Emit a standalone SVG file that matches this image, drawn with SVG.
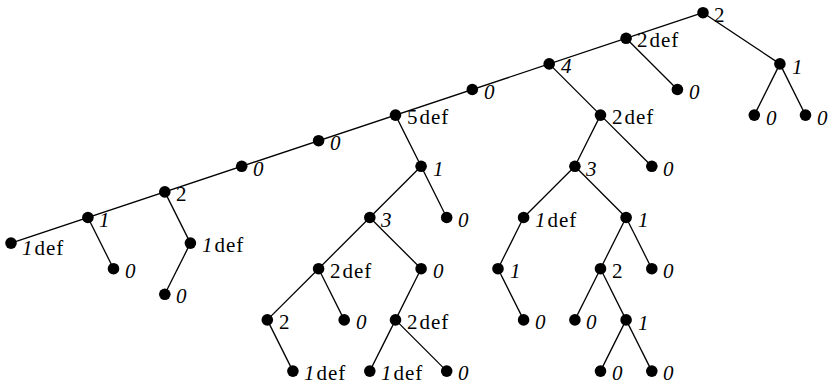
<svg xmlns="http://www.w3.org/2000/svg" width="836" height="385" viewBox="0 0 836 385">
<style>
.e{stroke:#000;stroke-width:1.3;fill:none}
.d{fill:#000}
.it{font-style:italic}
.rm{letter-spacing:1px}
</style>
<rect width="836" height="385" fill="#fff"/>
<g id="connectors" class="e">
<line x1="703.0" y1="12.7" x2="11.0" y2="243.1"/>
<line x1="703.0" y1="12.7" x2="779.9" y2="63.9"/>
<line x1="779.9" y1="63.9" x2="754.3" y2="115.1"/>
<line x1="779.9" y1="63.9" x2="805.5" y2="115.1"/>
<line x1="626.1" y1="38.3" x2="677.4" y2="89.5"/>
<line x1="549.2" y1="63.9" x2="600.5" y2="115.1"/>
<line x1="600.5" y1="115.1" x2="574.9" y2="166.3"/>
<line x1="600.5" y1="115.1" x2="651.8" y2="166.3"/>
<line x1="395.5" y1="115.1" x2="421.1" y2="166.3"/>
<line x1="421.1" y1="166.3" x2="369.8" y2="217.5"/>
<line x1="421.1" y1="166.3" x2="446.7" y2="217.5"/>
<line x1="369.8" y1="217.5" x2="318.6" y2="268.7"/>
<line x1="369.8" y1="217.5" x2="421.1" y2="268.7"/>
<line x1="318.6" y1="268.7" x2="267.3" y2="319.9"/>
<line x1="318.6" y1="268.7" x2="344.2" y2="319.9"/>
<line x1="267.3" y1="319.9" x2="292.9" y2="371.1"/>
<line x1="421.1" y1="268.7" x2="395.5" y2="319.9"/>
<line x1="395.5" y1="319.9" x2="369.8" y2="371.1"/>
<line x1="395.5" y1="319.9" x2="446.7" y2="371.1"/>
<line x1="574.9" y1="166.3" x2="523.6" y2="217.5"/>
<line x1="574.9" y1="166.3" x2="626.1" y2="217.5"/>
<line x1="523.6" y1="217.5" x2="498.0" y2="268.7"/>
<line x1="498.0" y1="268.7" x2="523.6" y2="319.9"/>
<line x1="626.1" y1="217.5" x2="600.5" y2="268.7"/>
<line x1="626.1" y1="217.5" x2="651.8" y2="268.7"/>
<line x1="600.5" y1="268.7" x2="574.9" y2="319.9"/>
<line x1="600.5" y1="268.7" x2="626.1" y2="319.9"/>
<line x1="626.1" y1="319.9" x2="600.5" y2="371.1"/>
<line x1="626.1" y1="319.9" x2="651.8" y2="371.1"/>
<line x1="87.9" y1="217.5" x2="113.5" y2="268.7"/>
<line x1="164.8" y1="191.9" x2="190.4" y2="243.1"/>
<line x1="190.4" y1="243.1" x2="164.8" y2="294.3"/>
</g>
<g font-family="Liberation Serif, DejaVu Serif, serif" font-size="21" fill="#000">
<g id="n1"><circle class="d" cx="703.0" cy="12.7" r="5.8"/><text x="714" y="21.5">2</text></g>
<g id="n2"><circle class="d" cx="626.1" cy="38.3" r="5.8"/><text x="637" y="47">2<tspan class="rm" dx="2">def</tspan></text></g>
<g id="n3"><circle class="d" cx="549.2" cy="63.9" r="5.8"/><text class="it" x="561" y="73">4</text></g>
<g id="n4"><circle class="d" cx="472.3" cy="89.5" r="5.8"/><text class="it" x="484" y="98.5">0</text></g>
<g id="n5"><circle class="d" cx="395.5" cy="115.1" r="5.8"/><text x="407" y="124">5<tspan class="rm" dx="2">def</tspan></text></g>
<g id="n6"><circle class="d" cx="318.6" cy="140.7" r="5.8"/><text class="it" x="330" y="150">0</text></g>
<g id="n7"><circle class="d" cx="241.7" cy="166.3" r="5.8"/><text class="it" x="253" y="175.5">0</text></g>
<g id="n8"><circle class="d" cx="164.8" cy="191.9" r="5.8"/><text x="176" y="201">2</text></g>
<g id="n9"><circle class="d" cx="87.9" cy="217.5" r="5.8"/><text class="it" x="99" y="227">1</text></g>
<g id="n10"><circle class="d" cx="11.0" cy="243.1" r="5.8"/><text x="22" y="255"><tspan class="it">1</tspan><tspan class="rm" dx="2">def</tspan></text></g>
<g id="n11"><circle class="d" cx="779.9" cy="63.9" r="5.8"/><text class="it" x="792" y="74">1</text></g>
<g id="n12"><circle class="d" cx="754.3" cy="115.1" r="5.8"/><text class="it" x="766" y="124.5">0</text></g>
<g id="n13"><circle class="d" cx="805.5" cy="115.1" r="5.8"/><text class="it" x="817" y="124.5">0</text></g>
<g id="n14"><circle class="d" cx="677.4" cy="89.5" r="5.8"/><text class="it" x="689" y="98.5">0</text></g>
<g id="n15"><circle class="d" cx="600.5" cy="115.1" r="5.8"/><text x="612" y="124">2<tspan class="rm" dx="2">def</tspan></text></g>
<g id="n16"><circle class="d" cx="574.9" cy="166.3" r="5.8"/><text class="it" x="586" y="175.5">3</text></g>
<g id="n17"><circle class="d" cx="651.8" cy="166.3" r="5.8"/><text class="it" x="663" y="175.5">0</text></g>
<g id="n18"><circle class="d" cx="421.1" cy="166.3" r="5.8"/><text class="it" x="433" y="176">1</text></g>
<g id="n19"><circle class="d" cx="369.8" cy="217.5" r="5.8"/><text class="it" x="381" y="226.5">3</text></g>
<g id="n20"><circle class="d" cx="446.7" cy="217.5" r="5.8"/><text class="it" x="458" y="226.5">0</text></g>
<g id="n21"><circle class="d" cx="318.6" cy="268.7" r="5.8"/><text x="330" y="277.5">2<tspan class="rm" dx="2">def</tspan></text></g>
<g id="n22"><circle class="d" cx="421.1" cy="268.7" r="5.8"/><text class="it" x="433" y="277.5">0</text></g>
<g id="n23"><circle class="d" cx="267.3" cy="319.9" r="5.8"/><text x="279" y="329">2</text></g>
<g id="n24"><circle class="d" cx="344.2" cy="319.9" r="5.8"/><text class="it" x="356" y="329">0</text></g>
<g id="n25"><circle class="d" cx="292.9" cy="371.1" r="5.8"/><text x="304" y="380"><tspan class="it">1</tspan><tspan class="rm" dx="2">def</tspan></text></g>
<g id="n26"><circle class="d" cx="395.5" cy="319.9" r="5.8"/><text x="407" y="329">2<tspan class="rm" dx="2">def</tspan></text></g>
<g id="n27"><circle class="d" cx="369.8" cy="371.1" r="5.8"/><text x="381" y="380"><tspan class="it">1</tspan><tspan class="rm" dx="2">def</tspan></text></g>
<g id="n28"><circle class="d" cx="446.7" cy="371.1" r="5.8"/><text class="it" x="458" y="380">0</text></g>
<g id="n29"><circle class="d" cx="523.6" cy="217.5" r="5.8"/><text x="535" y="226.5"><tspan class="it">1</tspan><tspan class="rm" dx="2">def</tspan></text></g>
<g id="n30"><circle class="d" cx="626.1" cy="217.5" r="5.8"/><text class="it" x="638" y="227">1</text></g>
<g id="n31"><circle class="d" cx="498.0" cy="268.7" r="5.8"/><text class="it" x="510" y="278">1</text></g>
<g id="n32"><circle class="d" cx="523.6" cy="319.9" r="5.8"/><text class="it" x="535" y="329">0</text></g>
<g id="n33"><circle class="d" cx="600.5" cy="268.7" r="5.8"/><text x="612" y="277.5">2</text></g>
<g id="n34"><circle class="d" cx="651.8" cy="268.7" r="5.8"/><text class="it" x="663" y="277.5">0</text></g>
<g id="n35"><circle class="d" cx="574.9" cy="319.9" r="5.8"/><text class="it" x="586" y="329">0</text></g>
<g id="n36"><circle class="d" cx="626.1" cy="319.9" r="5.8"/><text class="it" x="638" y="329.5">1</text></g>
<g id="n37"><circle class="d" cx="600.5" cy="371.1" r="5.8"/><text class="it" x="612" y="380">0</text></g>
<g id="n38"><circle class="d" cx="651.8" cy="371.1" r="5.8"/><text class="it" x="663" y="380">0</text></g>
<g id="n39"><circle class="d" cx="113.5" cy="268.7" r="5.8"/><text class="it" x="125" y="277.5">0</text></g>
<g id="n40"><circle class="d" cx="190.4" cy="243.1" r="5.8"/><text x="202" y="252"><tspan class="it">1</tspan><tspan class="rm" dx="2">def</tspan></text></g>
<g id="n41"><circle class="d" cx="164.8" cy="294.3" r="5.8"/><text class="it" x="176" y="303">0</text></g>
</g>
</svg>
